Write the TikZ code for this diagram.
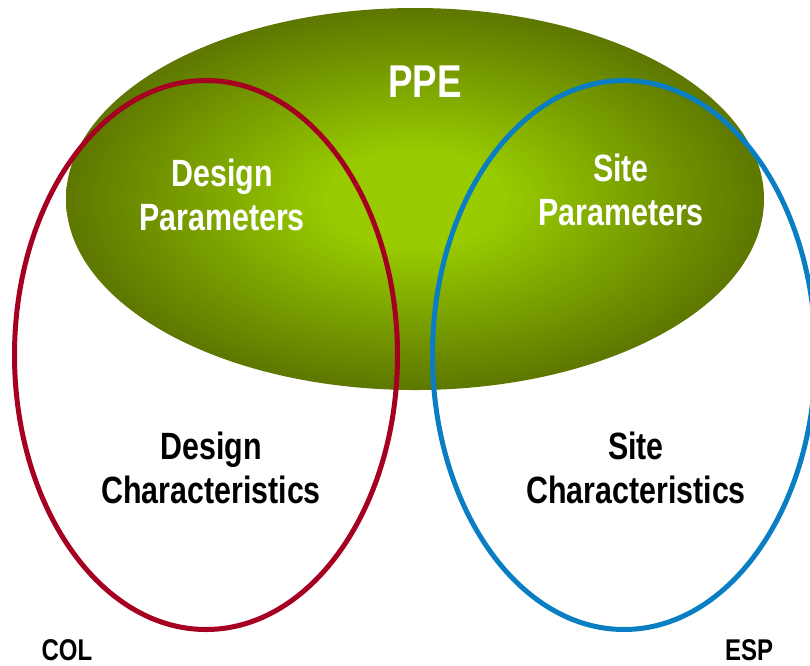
\documentclass[tikz,border=0pt]{standalone}
\usepackage{fontspec}
\setmainfont{Liberation Sans}[FakeStretch=0.80]
\usetikzlibrary{shapes.geometric}

\definecolor{ppelight}{RGB}{153,204,0}
\definecolor{ppedark}{RGB}{74,92,0}
\definecolor{colred}{RGB}{165,0,33}
\definecolor{espblue}{RGB}{10,126,194}

% bright centre fading to dark olive towards the rim
\pgfdeclareradialshading{ppeglow}{\pgfpoint{0bp}{0bp}}{color(0bp)=(ppelight); color(6bp)=(ppelight); color(31bp)=(ppedark); color(50bp)=(ppedark)}

\begin{document}
\begin{tikzpicture}[x=1pt,y=-1pt,
  ring/.style={ellipse,draw,line width=5pt,minimum width=383pt,minimum height=549pt,inner sep=0pt},
  lbl/.style={font=\bfseries\fontsize{38}{44}\selectfont,align=center,anchor=base}]
\useasboundingbox (0,0) rectangle (810,665);
\clip (0,0) rectangle (810,665);

% PPE envelope
\node[ellipse,shade,shading=ppeglow,minimum width=698pt,minimum height=382pt,inner sep=0pt] (ppe) at (415,199) {};

% the two applications
\node[ring,draw=colred] (col) at (206,355) {};
\node[ring,draw=espblue] (esp) at (624,355) {};

% anchor=base sits on the last line
\node[lbl,text=white,font=\bfseries\fontsize{46}{50}\selectfont] (ppetitle) at (425,97) {PPE};
\node[lbl,text=white] (designpar) at (222,230) {Design\\Parameters};
\node[lbl,text=white] (sitepar) at (621,225) {Site\\Parameters};
\node[lbl] (designchar) at (211,503) {Design\\Characteristics};
\node[lbl] (sitechar) at (636,503) {Site\\Characteristics};

\node[lbl,inner sep=0pt,font=\bfseries\fontsize{30}{32}\selectfont] (coltag) at (67,660) {COL};
\node[lbl,inner sep=0pt,font=\bfseries\fontsize{30}{32}\selectfont] (esptag) at (749,660) {ESP};
\end{tikzpicture}
\end{document}
